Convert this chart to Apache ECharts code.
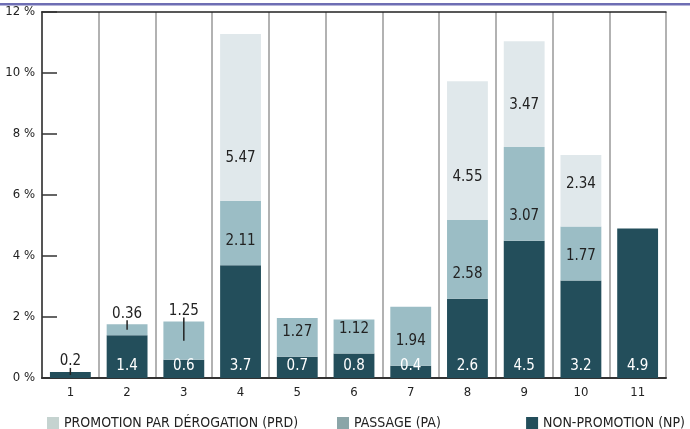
<!DOCTYPE html>
<html>
<head>
<meta charset="utf-8">
<script src="https://cdn.jsdelivr.net/npm/echarts@6/dist/echarts.min.js"></script>
<style>
  html, body { margin: 0; padding: 0; background: #fff; }
  #chart { width: 690px; height: 429px; }
</style>
</head>
<body>
<div id="chart"></div>
<script>
var categories = ['1', '2', '3', '4', '5', '6', '7', '8', '9', '10', '11'];
var npValues  = [0.2, 1.4, 0.6, 3.7, 0.7, 0.8, 0.4, 2.6, 4.5, 3.2, 4.9];
var paValues  = [null, 0.36, 1.25, 2.11, 1.27, 1.12, 1.94, 2.58, 3.07, 1.77, null];
var prdValues = [null, null, null, 5.47, null, null, null, 4.55, 3.47, 2.34, null];
var yTicks = [0, 2, 4, 6, 8, 10, 12];

var names = ['PROMOTION PAR DÉROGATION (PRD)', 'PASSAGE (PA)', 'NON-PROMOTION (NP)'];
// bars whose top label sits above the bar with a small leader line
var callouts = [0, 1, 2];

var FONT = "'Liberation Sans Narrow', 'DejaVu Sans Condensed', sans-serif";
var cNP = '#234e5b', cPA = '#9bbdc5', cPRD = '#e0e8eb';

var chart = echarts.init(document.getElementById('chart'));

function topSeg(i) {
	if (prdValues[i] != null) return 'prd';
	if (paValues[i] != null) return 'pa';
	return 'np';
}

function items(arr, key) {
	return arr.map(function(v, i) {
		if (v == null) return null;
		if (callouts.indexOf(i) >= 0 && topSeg(i) == key) {
			return { value: v, label: { position: 'top', distance: 3, color: '#222' } };
		}
		return v;
	});
}

// leader lines: [category, segment start, segment end]
var leaders = callouts.map(function(i) {
	var base = 0, top = npValues[i];
	if (topSeg(i) == 'pa') { base = npValues[i]; top = base + paValues[i]; }
	return [i, base, top];
});

var labelBase = {
	show: true,
	fontFamily: FONT,
	fontSize: 15,
	formatter: function(p) { return p.value; }
};

function legendAt(pos, idx, color) {
	return Object.assign({
		top: 411, itemWidth: 12, itemHeight: 12, icon: 'rect',
		selectedMode: false,
		textStyle: { fontFamily: FONT, fontSize: 14, color: '#222' },
		data: [{ name: names[idx], itemStyle: { color: color } }]
	}, pos);
}

var option = {
	animation: false,
	textStyle: { fontFamily: FONT },
	grid: { left: 42, right: 24, top: 12, bottom: 51 },
	graphic: [{
		type: 'rect',
		shape: { x: 0, y: 3, width: 690, height: 2.5 },
		style: { fill: '#6e6eb4' }
	}],
	legend: [
		legendAt({ left: 42 }, 0, '#c5d3d0'),
		legendAt({ left: 332 }, 1, '#8ba5a8'),
		legendAt({ right: 0 }, 2, cNP)
	],
	xAxis: [{
		type: 'category',
		data: categories,
		boundaryGap: true,
		axisLine: { lineStyle: { color: '#333', width: 2 } },
		axisTick: { inside: true, length: 6, lineStyle: { color: '#333', width: 1.5 } },
		axisLabel: { color: '#222', fontSize: 13, fontFamily: FONT, margin: 8 },
		splitLine: { show: true, lineStyle: { color: '#999', width: 1.5 } }
	}, {
		type: 'category',
		data: categories,
		position: 'top',
		axisLine: { lineStyle: { color: '#222', width: 1.5 } },
		axisTick: { show: false },
		axisLabel: { show: false }
	}],
	yAxis: {
		type: 'value',
		min: yTicks[0],
		max: yTicks[yTicks.length - 1],
		interval: yTicks[1] - yTicks[0],
		axisLine: { show: true, lineStyle: { color: '#555', width: 2 } },
		axisTick: { show: true, inside: true, length: 15, lineStyle: { color: '#333', width: 1.5 } },
		axisLabel: { formatter: '{value} %', color: '#222', fontSize: 13, fontFamily: FONT, margin: 7 },
		splitLine: { show: false }
	},
	series: [{
		name: names[2],
		type: 'bar',
		stack: 'all',
		barWidth: '72%',
		itemStyle: { color: cNP },
		label: Object.assign({}, labelBase, { position: 'insideBottom', distance: 4, color: '#fff' }),
		data: items(npValues, 'np')
	}, {
		name: names[1],
		type: 'bar',
		stack: 'all',
		itemStyle: { color: cPA },
		label: Object.assign({}, labelBase, { position: 'insideBottom', distance: 17, color: '#222' }),
		data: items(paValues, 'pa')
	}, {
		name: names[0],
		type: 'bar',
		stack: 'all',
		itemStyle: { color: cPRD },
		label: Object.assign({}, labelBase, { position: 'insideBottom', distance: 35, color: '#222' }),
		data: items(prdValues, 'prd')
	}, {
		type: 'custom',
		silent: true,
		z: 5,
		renderItem: function(params, api) {
			var top = api.coord([api.value(0), api.value(2)]);
			var mid = api.coord([api.value(0), (api.value(1) + api.value(2)) / 2]);
			return {
				type: 'line',
				shape: { x1: top[0], y1: top[1] - 4, x2: mid[0], y2: mid[1] },
				style: { stroke: '#222', lineWidth: 1.5 }
			};
		},
		data: leaders
	}]
};

chart.setOption(option);
</script>
</body>
</html>
